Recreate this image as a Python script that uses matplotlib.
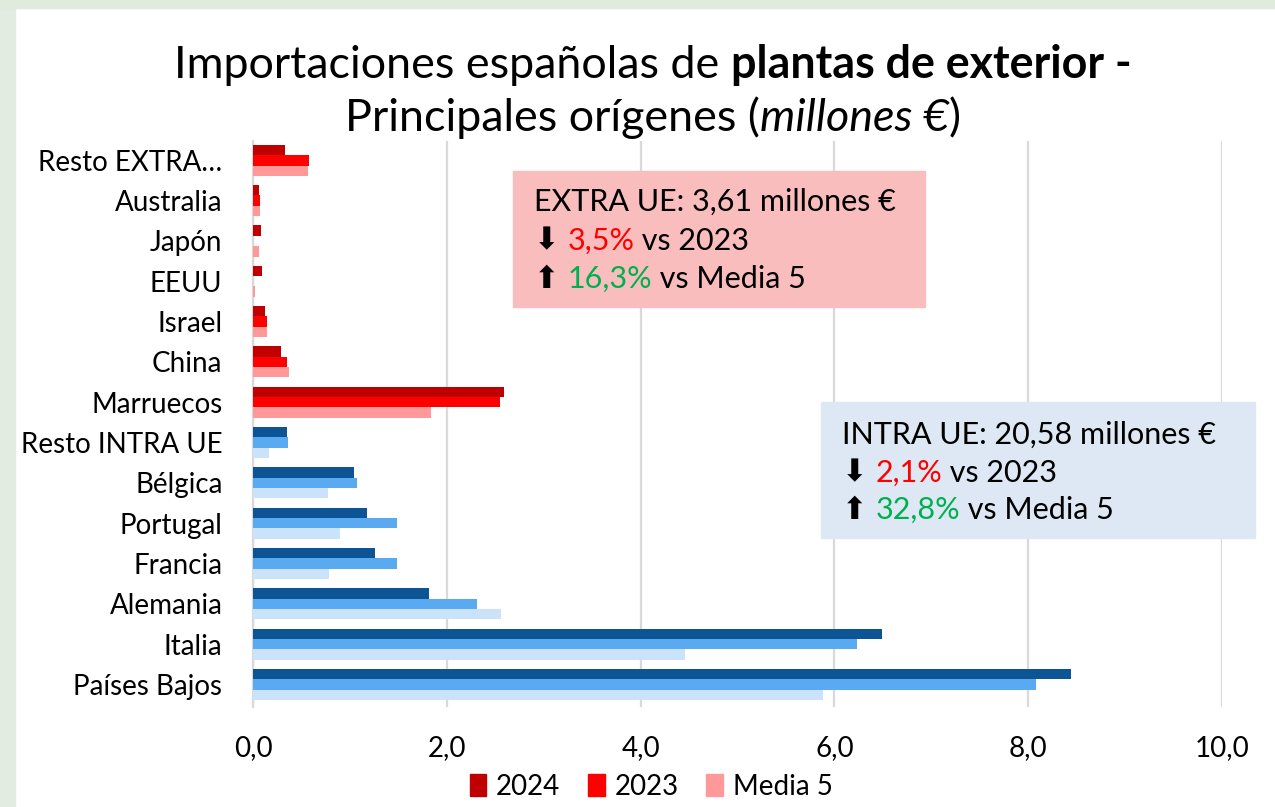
import matplotlib
matplotlib.use("Agg")
import matplotlib.pyplot as plt
from matplotlib.patches import Rectangle, Patch
import numpy as np

# ---------------- data ----------------
categories = ["Resto EXTRA…", "Australia", "Japón", "EEUU", "Israel", "China", "Marruecos",
              "Resto INTRA UE", "Bélgica", "Portugal", "Francia", "Alemania", "Italia", "Países Bajos"]
zone = ["EXTRA"] * 7 + ["INTRA"] * 7
v2024 = [0.335, 0.065, 0.087, 0.095, 0.12, 0.29, 2.59, 0.35, 1.04, 1.18, 1.26, 1.82, 6.49, 8.44]
v2023 = [0.58, 0.075, 0.003, 0.003, 0.145, 0.35, 2.55, 0.36, 1.07, 1.49, 1.49, 2.31, 6.23, 8.08]
vmed5 = [0.57, 0.075, 0.06, 0.02, 0.14, 0.375, 1.84, 0.165, 0.77, 0.90, 0.78, 2.56, 4.46, 5.88]
series_labels = ["2024", "2023", "Media 5"]
xticks = [0, 2, 4, 6, 8, 10]
xtick_labels = ["0,0", "2,0", "4,0", "6,0", "8,0", "10,0"]

title_line1 = [("Importaciones españolas de ", "normal", "normal"),
               ("plantas de exterior -", "bold", "normal")]
title_line2 = [("Principales orígenes (", "normal", "normal"),
               ("millones €", "normal", "italic"),
               (")", "normal", "normal")]

extra_box = [[("EXTRA UE: 3,61 millones €", "black")],
             [("⬇ ", "black"), ("3,5%", "#FF0000"), (" vs 2023", "black")],
             [("⬆ ", "black"), ("16,3%", "#00B050"), (" vs Media 5", "black")]]
intra_box = [[("INTRA UE: 20,58 millones €", "black")],
             [("⬇ ", "black"), ("2,1%", "#FF0000"), (" vs 2023", "black")],
             [("⬆ ", "black"), ("32,8%", "#00B050"), (" vs Media 5", "black")]]

colors = {"EXTRA": ["#C00000", "#FF0000", "#FF9999"],
          "INTRA": ["#0D5495", "#5AAAF1", "#CAE2FA"]}

# ---------------- figure ----------------
W, H = 1275, 807
FONT = ["Lato", "DejaVu Sans"]
plt.rcParams["font.family"] = FONT
fig = plt.figure(figsize=(W / 100, H / 100), dpi=100)
fig.patch.set_facecolor("white")

# light green slide frame
fig.add_artist(Rectangle((0, 0), 15 / W, 1, transform=fig.transFigure, color="#E2ECE0", zorder=0))
fig.add_artist(Rectangle((0, 1 - 8 / H), 1, 8 / H, transform=fig.transFigure, color="#E0EADD", zorder=0))

ax = fig.add_axes([253 / W, 1 - 707 / H, (1222 - 253) / W, (707 - 141) / H])
ax.set_facecolor("none")

n = len(categories)
ypos = np.arange(n)[::-1]  # first category on top
bh = 0.257
vals = [v2024, v2023, vmed5]
for k, series in enumerate(vals):
    cols = [colors[z][k] for z in zone]
    ax.barh(ypos + (1 - k) * bh, series, height=bh, color=cols, zorder=3)

ax.set_xlim(0, 10)
ax.set_ylim(-0.56, n - 1 + 0.48)
ax.set_xticks(xticks)
ax.set_xticklabels(xtick_labels)
ax.set_yticks(ypos)
ax.set_yticklabels(categories)
ax.tick_params(axis="both", length=0, labelsize=20)
ax.tick_params(axis="y", pad=22)
ax.tick_params(axis="x", pad=20)
ax.grid(axis="x", color="#D9D9D9", linewidth=1.6, zorder=0)
for s in ["top", "right", "bottom"]:
    ax.spines[s].set_visible(False)
ax.spines["left"].set_color("#D9D9D9")
ax.spines["left"].set_linewidth(1.6)

# ---------------- rich text helper ----------------
renderer = fig.canvas.get_renderer()


def rich_line(x_px, y_px, segments, size, ha="left"):
    texts, widths = [], []
    for seg in segments:
        txt, color, weight, style = seg
        t = fig.text(0, 0, txt, fontsize=size, color=color, fontweight=weight,
                     fontstyle=style, va="baseline", ha="left", zorder=6)
        widths.append(t.get_window_extent(renderer).width)
        texts.append(t)
    total = sum(widths)
    x0 = x_px - total / 2 if ha == "center" else x_px
    for t, w in zip(texts, widths):
        t.set_position((x0 / W, 1 - y_px / H))
        x0 += w


rich_line(653, 78, [(a, "black", b, c) for a, b, c in title_line1], 32.3, ha="center")
rich_line(653, 131, [(a, "black", b, c) for a, b, c in title_line2], 32.3, ha="center")

# annotation boxes
fig.add_artist(Rectangle((513 / W, 1 - 307 / H), (925 - 513) / W, (307 - 171) / H,
                         transform=fig.transFigure, color="#F9BDBD", zorder=5))
fig.add_artist(Rectangle((821 / W, 1 - 538 / H), (1255 - 821) / W, (538 - 402) / H,
                         transform=fig.transFigure, color="#DDE8F4", zorder=5))
for i, line in enumerate(extra_box):
    rich_line(534, 211 + i * 38.5, [(a, c, "normal", "normal") for a, c in line], 22)
for i, line in enumerate(intra_box):
    rich_line(842, 444 + i * 37.5, [(a, c, "normal", "normal") for a, c in line], 22)

# legend (red shades)
handles = [Patch(color=c) for c in colors["EXTRA"]]
fig.legend(handles, series_labels, loc="center", bbox_to_anchor=(651 / W, 1 - 787 / H),
           ncol=3, frameon=False, fontsize=20, handlelength=0.6, handleheight=0.85,
           handletextpad=0.35, columnspacing=1.0)

fig.savefig("out.png", dpi=100)
